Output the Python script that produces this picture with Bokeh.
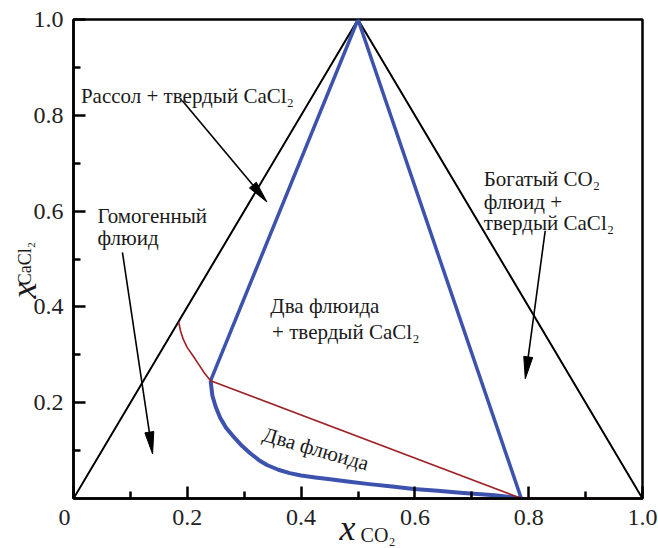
import math
from bokeh.plotting import figure
from bokeh.models import Range1d, FixedTicker, Label, LinearAxis
from bokeh.embed import file_html
from bokeh.resources import INLINE

# ---------------- data ----------------
outer_x = [0.0, 0.5, 1.0]
outer_y = [0.0, 1.0, 0.0]

tie_tri_x = [0.241, 0.5, 0.787]
tie_tri_y = [0.246, 1.0, 0.0]

blue_curve_x = [0.241, 0.244, 0.250, 0.258, 0.268, 0.282, 0.296, 0.311, 0.326, 0.340, 0.360,
                0.380, 0.400, 0.425, 0.451, 0.485, 0.520, 0.560, 0.598, 0.640, 0.680, 0.740, 0.787]
blue_curve_y = [0.246, 0.215, 0.191, 0.168, 0.148, 0.128, 0.110, 0.094, 0.080, 0.070, 0.060,
                0.053, 0.048, 0.044, 0.040, 0.035, 0.030, 0.025, 0.020, 0.016, 0.012, 0.007, 0.000]

red_curve_x = [0.185, 0.188, 0.193, 0.200, 0.210, 0.220, 0.230, 0.241]
red_curve_y = [0.368, 0.350, 0.332, 0.315, 0.298, 0.280, 0.262, 0.246]
red_tie_x = [0.241, 0.787]
red_tie_y = [0.246, 0.000]
red_base_x = [0.787, 1.0]
red_base_y = [0.0, 0.0]

arrow_tail_x = [0.191, 0.086, 0.829]
arrow_tail_y = [0.831, 0.514, 0.559]
arrow_tip_x = [0.340, 0.139, 0.794]
arrow_tip_y = [0.619, 0.093, 0.250]

x_ticks = [0.0, 0.2, 0.4, 0.6, 0.8, 1.0]
x_minor = [0.1, 0.3, 0.5, 0.7, 0.9]
y_ticks = [0.2, 0.4, 0.6, 0.8, 1.0]
y_minor = [0.1, 0.3, 0.5, 0.7, 0.9]

# text annotations: (text, x, y)
region_labels = [
    ("Рассол + твердый CaCl₂", 0.013, 0.841),
    ("Гомогенный", 0.042, 0.589),
    ("флюид", 0.042, 0.543),
    ("Два флюида", 0.346, 0.401),
    ("+ твердый CaCl₂", 0.349, 0.347),
    ("Богатый CO₂", 0.721, 0.667),
    ("флюид +", 0.721, 0.619),
    ("твердый CaCl₂", 0.721, 0.575),
]
rotated_label = ("Два флюида", 0.334, 0.135, -0.28)

x_title_main, x_title_sub = "x", "CO₂"
x_title_pos = 0.4815
y_title_main, y_title_sub = "x", "CaCl₂"

# ---------------- figure ----------------
W, H = 658, 548
ML, MT = 73, 19
FW, FH = 569, 479
MR, MB = W - ML - FW, H - MT - FH

p = figure(width=W, height=H, x_range=Range1d(0, 1), y_range=Range1d(0, 1),
           output_backend="svg", toolbar_location=None,
           min_border_left=ML, min_border_right=MR, min_border_top=MT, min_border_bottom=MB)
p.xgrid.visible = False
p.ygrid.visible = False
p.outline_line_color = "black"
p.outline_line_width = 2.5
p.background_fill_color = "white"
p.border_fill_color = "white"

FONT = "Liberation Serif"
NB = "\u00a0"
TXT = "#1a1a1a"

p.xaxis.ticker = FixedTicker(ticks=x_ticks, minor_ticks=x_minor)
p.yaxis.ticker = FixedTicker(ticks=y_ticks, minor_ticks=y_minor)
p.xaxis.major_label_overrides = {0: "0" + NB * 3, 1: "1.0"}
p.yaxis.major_label_overrides = {1: "1.0"}
for ax in (p.xaxis[0], p.yaxis[0]):
    ax.axis_line_width = 2.5
    ax.axis_line_color = "black"
    ax.major_tick_in = 12
    ax.major_tick_out = 0
    ax.minor_tick_in = 7
    ax.minor_tick_out = 0
    ax.major_tick_line_width = 2.5
    ax.minor_tick_line_width = 2.5
    ax.major_tick_line_color = "black"
    ax.minor_tick_line_color = "black"
    ax.major_label_text_font = FONT
    ax.major_label_text_font_size = "24px"
    ax.major_label_text_color = "#222222"
    ax.axis_label_text_font = FONT
    ax.axis_label_text_color = TXT
p.xaxis.major_label_standoff = 5
p.yaxis.major_label_standoff = 10

# y title: subscript on the main axis, italic "x" on an outer label-only axis
p.yaxis.axis_label = y_title_sub + NB * 2
p.yaxis.axis_label_text_font_style = "normal"
p.yaxis.axis_label_text_font_size = "18px"
p.yaxis.axis_label_standoff = -4

y_outer = LinearAxis(ticker=FixedTicker(ticks=[]), axis_line_color=None,
                     major_tick_line_color=None, minor_tick_line_color=None,
                     major_label_text_font_size="0px", major_label_standoff=0,
                     major_tick_in=0, major_tick_out=0, minor_tick_in=0, minor_tick_out=0,
                     axis_label=y_title_main + NB * 7, axis_label_text_font=FONT,
                     axis_label_text_font_size="36px", axis_label_text_font_style="italic",
                     axis_label_text_color=TXT, axis_label_standoff=-32)
p.add_layout(y_outer, "left")

# x title: italic "x" as a label of an outer axis, subscript as that axis' title
x_outer = LinearAxis(ticker=FixedTicker(ticks=[x_title_pos]), axis_line_color=None,
                     major_tick_line_color=None, minor_tick_line_color=None,
                     major_tick_in=0, major_tick_out=0, minor_tick_in=0, minor_tick_out=0,
                     major_label_overrides={x_title_pos: x_title_main},
                     major_label_text_font=FONT, major_label_text_font_size="36px",
                     major_label_text_font_style="italic", major_label_text_color=TXT,
                     major_label_standoff=-25,
                     axis_label=NB * 8 + x_title_sub, axis_label_text_font=FONT,
                     axis_label_text_font_size="20px", axis_label_text_font_style="normal",
                     axis_label_text_color=TXT, axis_label_standoff=-27)
p.add_layout(x_outer, "below")

# ---------------- lines ----------------
p.line(outer_x, outer_y, line_color="black", line_width=2)
p.line(tie_tri_x, tie_tri_y, line_color="#3d52ad", line_width=3.5)
p.line(blue_curve_x, blue_curve_y, line_color="#3d52ad", line_width=4, line_join="round")
p.line(red_curve_x, red_curve_y, line_color="#9e1f24", line_width=1.6)
p.line(red_tie_x, red_tie_y, line_color="#9e1f24", line_width=1.6)
p.line(red_base_x, red_base_y, line_color="#9e1f24", line_width=2)

# ---------------- arrows (heads derived from arrow endpoints) ----------------
HEAD_L, HEAD_W = 22, 4.5
shaft_xs, shaft_ys, head_xs, head_ys = [], [], [], []
for x0, y0, x1, y1 in zip(arrow_tail_x, arrow_tail_y, arrow_tip_x, arrow_tip_y):
    dx, dy = (x1 - x0) * FW, (y1 - y0) * FH
    n = math.hypot(dx, dy)
    ux, uy = dx / n, dy / n
    bx, by = x1 - HEAD_L * ux / FW, y1 - HEAD_L * uy / FH
    px, py = -uy, ux
    shaft_xs.append([x0, bx])
    shaft_ys.append([y0, by])
    head_xs.append([x1, bx + HEAD_W * px / FW, bx - HEAD_W * px / FW])
    head_ys.append([y1, by + HEAD_W * py / FH, by - HEAD_W * py / FH])
p.multi_line(shaft_xs, shaft_ys, line_color="black", line_width=1.6)
p.patches(head_xs, head_ys, fill_color="black", line_color="black", line_width=1)

# ---------------- texts ----------------
for t, x, y in region_labels:
    p.add_layout(Label(x=x, y=y, text=t, text_font=FONT, text_font_size="21px",
                       text_color=TXT, text_baseline="alphabetic", text_align="left"))
t, x, y, a = rotated_label
p.add_layout(Label(x=x, y=y, text=t, text_font=FONT, text_font_size="21px", angle=a,
                   text_color=TXT, text_baseline="alphabetic", text_align="left"))

open("out.html", "w").write(file_html(p, INLINE))
